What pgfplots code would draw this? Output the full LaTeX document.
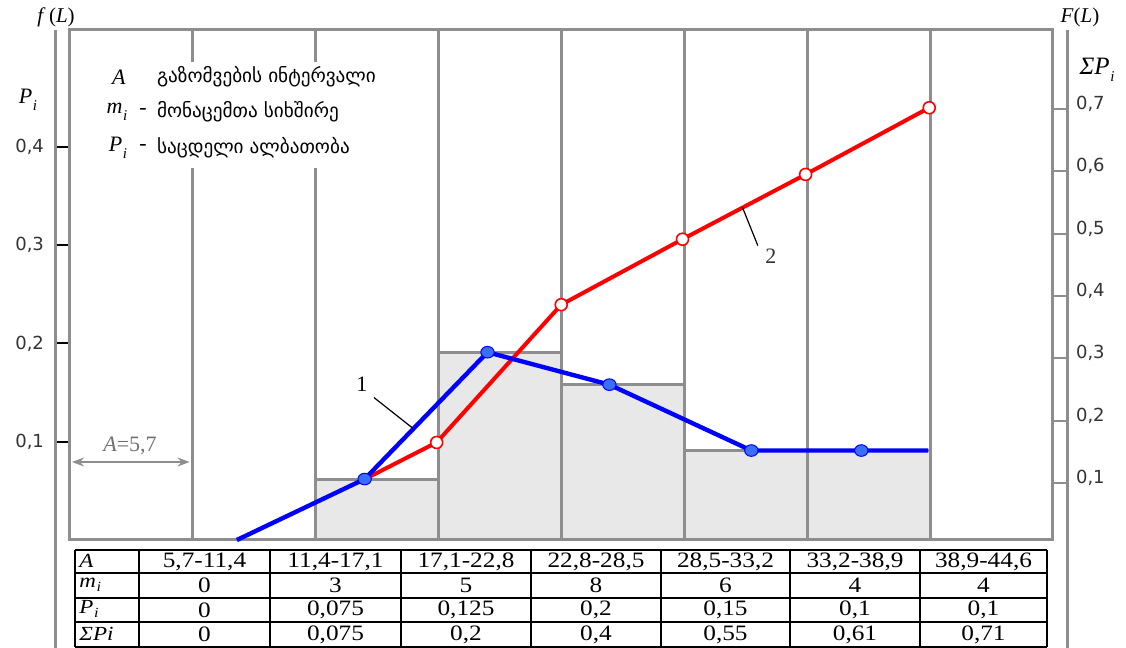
\documentclass[border=0pt]{standalone}
\usepackage{pgfplots}
\pgfplotsset{compat=1.18}
\usepackage{fontspec}
\setmainfont{Liberation Serif}
\newfontfamily\dejavu{DejaVu Sans}
\newfontfamily\geo{DejaVu Sans}
\newfontfamily\tabfont[FakeStretch=1.15]{Liberation Serif}
\usetikzlibrary{arrows.meta}

\definecolor{gridgray}{HTML}{8E8E8E}
\definecolor{barfill}{HTML}{E8E8E8}
\definecolor{markblue}{HTML}{3A6EF5}
\definecolor{ticktext}{HTML}{333333}

\newcommand\sub[1]{\textit{#1}\kern0.3pt\raisebox{-0.3em}{\fontsize{7.5}{8}\selectfont\textit{i}}}
\newcommand\tsub[1]{\textit{#1}\kern0.3pt\raisebox{-0.18em}{\fontsize{7}{7}\selectfont\textit{i}}}

\pgfplotsset{
  common/.style={
    at={(0,0)}, anchor=south west, scale only axis,
    width=491.5pt, height=255pt, xmin=0, xmax=8, clip=false,
  },
  ticknum/.style={
    font=\dejavu\fontsize{9}{10}\selectfont, text=ticktext,
    /pgf/number format/use comma,
    /pgf/number format/assume math mode=true,
  },
}

\begin{document}
\begin{tikzpicture}[x=1pt,y=1pt]
\useasboundingbox (-35,-54) rectangle (528,270);

% left scale P_i: frame, interval grid and histogram
\begin{axis}[common,
  ymin=0, ymax=0.5188,
  axis line style={draw=gridgray, line width=1.5pt},
  xtick={1,...,7}, xticklabels={}, xmajorgrids,
  major x grid style={draw=gridgray, line width=1.5pt},
  x tick style={draw=none},
  ytick={0.1,0.2,0.3,0.4}, ytick pos=left,
  tick align=outside, major tick length=7pt,
  y tick style={draw=black, line width=0.9pt},
  yticklabel style={ticknum, xshift=-2.5pt},
]
\addplot[ybar interval, fill=barfill, draw=gridgray, line width=1.5pt]
  coordinates {(2,0.062) (3,0.191) (4,0.158) (5,0.091) (6,0.091) (7,0)};
\end{axis}

% right scale: cumulative probability (polygon 2)
\begin{axis}[common,
  ymin=0.0085, ymax=0.8267,
  axis x line=none, axis y line*=right,
  y axis line style={draw=gridgray, line width=1.5pt},
  ytick={0.1,0.2,0.3,0.4,0.5,0.6,0.7},
  tick align=outside, major tick length=7pt,
  y tick style={draw=gridgray, line width=1pt},
  yticklabel style={ticknum, xshift=1pt, yshift=2.5pt},
]
\addplot[red, line width=2pt, line join=round, mark=*, mark indices={2,...,6},
  mark options={fill=white, draw=red, line width=0.8pt}, mark size=3pt]
  coordinates {(2.398,0.106) (2.984,0.165) (3.998,0.386) (4.985,0.491) (5.987,0.595) (6.993,0.702)};
\end{axis}

% left scale again: frequency polygon 1
\begin{axis}[common, ymin=0, ymax=0.5188, hide axis]
\addplot[blue, line width=2.2pt, line join=round, mark=*, mark indices={2,...,6},
  mark options={fill=markblue, draw=blue, line width=0.5pt, xscale=1.15}, mark size=2.9pt]
  coordinates {(1.358,0) (2.398,0.062) (3.398,0.191) (4.390,0.158) (5.545,0.091) (6.440,0.091) (6.984,0.091)};
\end{axis}

% outer axis lines
\draw[gridgray, line width=1.5pt] (-7,255) -- (-7,-54);
\draw[gridgray, line width=1.5pt] (498.5,255) -- (498.5,-54);

% axis titles
\node[font=\fontsize{10.5}{12}\selectfont] at (-7,261.5) {\textit{f}\,(\textit{L})};
\node[font=\fontsize{10.5}{12}\selectfont] at (505,261.5) {\textit{F}(\textit{L})};
\node[font=\fontsize{11}{12}\selectfont] at (-21,220) {\sub{P}};
\node[font=\fontsize{12.5}{14}\selectfont] at (513.5,235) {\textit{Σ}\sub{P}};

% legend block
\fill[white] (12.5,186) rectangle (162.5,239);
\node[font=\fontsize{11}{12}\selectfont] at (24.5,231.5) {\textit{A}};
\node[anchor=west, font=\geo\fontsize{9.6}{11}\selectfont] at (40,231.5) {გაზომვების ინტერვალი};
\node[font=\fontsize{11}{12}\selectfont] at (23.5,214) {\sub{m}};
\node[font=\fontsize{11}{12}\selectfont] at (36.5,214) {-};
\node[anchor=west, font=\geo\fontsize{9.6}{11}\selectfont] at (40,214) {მონაცემთა სიხშირე};
\node[font=\fontsize{11}{12}\selectfont] at (24,196) {\sub{P}};
\node[font=\fontsize{11}{12}\selectfont] at (36.5,196) {-};
\node[anchor=west, font=\geo\fontsize{9.6}{11}\selectfont] at (40,196) {საცდელი ალბათობა};

% interval width
\draw[gridgray, line width=0.9pt, {Stealth[length=6pt,width=4.5pt]}-{Stealth[length=6pt,width=4.5pt]}] (1,39) -- (59.8,39);
\node[text=gridgray!80!black, font=\fontsize{11}{12}\selectfont] at (30,47) {\textit{A}=5,7};

% curve labels
\draw[black, line width=0.6pt] (152,71.2) -- (171.4,55.9);
\node[font=\fontsize{11}{12}\selectfont] at (145.9,78) {1};
\draw[black, line width=0.6pt] (336.2,166.4) -- (343.9,147.2);
\node[font=\fontsize{11}{12}\selectfont, text=black!80] at (350.4,141.7) {2};

% data table
\foreach \yy in {-5,-16.5,-29,-41,-53.5}
  \draw[black, line width=0.6pt] (2.5,\yy) -- (488.5,\yy);
\foreach \xx in {2.5,34.5,100,165.5,230.5,295.5,360,425,488.5}
  \draw[black, line width=0.6pt] (\xx,-5) -- (\xx,-53.5);
\begin{scope}[every node/.style={font=\tabfont\fontsize{11}{12}\selectfont, inner sep=0pt}]
\node[anchor=west, font=\tabfont\fontsize{10}{11}\selectfont] at (4.5,-10.5) {\textit{A}};
\node[anchor=west, font=\tabfont\fontsize{10}{11}\selectfont] at (4.5,-22.5) {\tsub{m}};
\node[anchor=west, font=\tabfont\fontsize{10}{11}\selectfont] at (4.5,-34.5) {\tsub{P}};
\node[anchor=west, font=\tabfont\fontsize{10}{11}\selectfont] at (4.5,-47) {\textit{ΣPi}};
\foreach \c/\a/\m/\p/\s in {
    67.25/{5,7-11,4}/0/0/0,
    132.75/{11,4-17,1}/3/{0,075}/{0,075},
    198/{17,1-22,8}/5/{0,125}/{0,2},
    263/{22,8-28,5}/8/{0,2}/{0,4},
    327.75/{28,5-33,2}/6/{0,15}/{0,55},
    392.5/{33,2-38,9}/4/{0,1}/{0,61},
    456.75/{38,9-44,6}/4/{0,1}/{0,71}} {
  \node at (\c,-10.75) {\a};
  \node at (\c,-22.75) {\m};
  \node at (\c,-35) {\p};
  \node at (\c,-47.25) {\s};
}
\end{scope}
\end{tikzpicture}
\end{document}
